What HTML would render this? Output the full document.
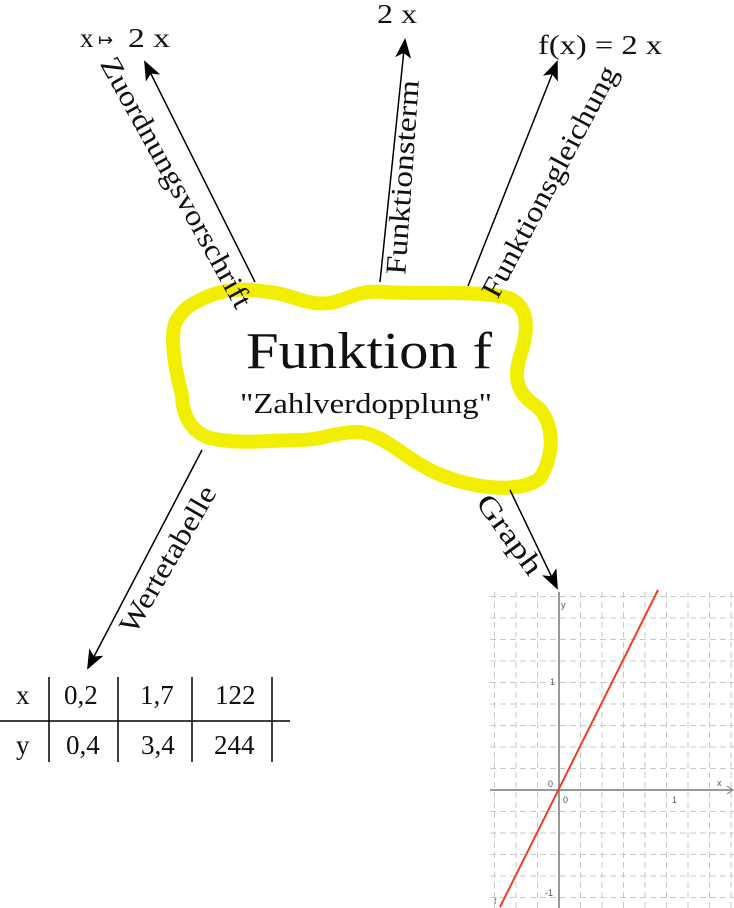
<!DOCTYPE html>
<html><head><meta charset="utf-8"><style>
html,body{margin:0;padding:0;background:#fff;}
svg{display:block;}
text{font-family:"Liberation Serif",serif;fill:#111;}
</style></head><body>
<svg width="734" height="908" viewBox="0 0 734 908" xmlns="http://www.w3.org/2000/svg">
<defs>
<marker id="ah" markerWidth="20" markerHeight="20" refX="18" refY="8" orient="auto" markerUnits="userSpaceOnUse" viewBox="0 0 20 16">
<path d="M0,0 L20,8 L0,16 L5,8 Z" fill="#000"/>
</marker>
</defs>
<!-- graph grid -->
<g stroke="#c8c8c8" stroke-width="1" stroke-dasharray="6,4">
<line x1="494.5" y1="592" x2="494.5" y2="908"/><line x1="516" y1="592" x2="516" y2="908"/><line x1="537.5" y1="592" x2="537.5" y2="908"/><line x1="580.5" y1="592" x2="580.5" y2="908"/><line x1="602" y1="592" x2="602" y2="908"/><line x1="623.5" y1="592" x2="623.5" y2="908"/><line x1="645" y1="592" x2="645" y2="908"/><line x1="666.5" y1="592" x2="666.5" y2="908"/><line x1="688" y1="592" x2="688" y2="908"/><line x1="709.5" y1="592" x2="709.5" y2="908"/><line x1="731" y1="592" x2="731" y2="908"/>
<line x1="490" y1="897.5" x2="734" y2="897.5"/><line x1="490" y1="876" x2="734" y2="876"/><line x1="490" y1="854.5" x2="734" y2="854.5"/><line x1="490" y1="833" x2="734" y2="833"/><line x1="490" y1="811.5" x2="734" y2="811.5"/><line x1="490" y1="768.5" x2="734" y2="768.5"/><line x1="490" y1="747" x2="734" y2="747"/><line x1="490" y1="725.5" x2="734" y2="725.5"/><line x1="490" y1="704" x2="734" y2="704"/><line x1="490" y1="682.5" x2="734" y2="682.5"/><line x1="490" y1="661" x2="734" y2="661"/><line x1="490" y1="639.5" x2="734" y2="639.5"/><line x1="490" y1="618" x2="734" y2="618"/><line x1="490" y1="596.5" x2="734" y2="596.5"/>
</g>
<g stroke="#777" stroke-width="1.5">
<line x1="490" y1="790" x2="732" y2="790"/>
<line x1="559" y1="908" x2="559" y2="592"/>
</g>
<path d="M727,786 L733,790 L727,794" fill="none" stroke="#777" stroke-width="1"/>
<g font-size="9">
<text x="561" y="608" style="font-family:'Liberation Sans',sans-serif;fill:#555">y</text>
<text x="717" y="786" style="font-family:'Liberation Sans',sans-serif;fill:#555">x</text>
<text x="548" y="787" style="font-family:'Liberation Sans',sans-serif;fill:#555">0</text>
<text x="563" y="803" style="font-family:'Liberation Sans',sans-serif;fill:#555">0</text>
<text x="672" y="803" style="font-family:'Liberation Sans',sans-serif;fill:#555">1</text>
<text x="550" y="685" style="font-family:'Liberation Sans',sans-serif;fill:#555">1</text>
<text x="545" y="896" style="font-family:'Liberation Sans',sans-serif;fill:#555">-1</text>
<text x="494" y="904" style="font-family:'Liberation Sans',sans-serif;fill:#e0502a">f</text>
</g>
<line x1="500" y1="907" x2="658" y2="590" stroke="#f04020" stroke-width="2"/>

<!-- yellow blob -->
<path d="M200,300 C230,285 250,290 270,292 C295,295 310,308 335,302 C355,296 360,290 385,292 C420,295 470,290 505,297 C530,303 528,330 522,350 C515,370 512,390 535,405 C555,420 555,455 540,478 C520,495 465,488 430,470 C400,455 380,430 352,432 C330,434 320,440 300,440 C270,440 240,445 210,438 C185,430 182,405 182,395 C175,370 168,330 178,318 C185,308 190,305 200,300 Z" fill="none" stroke="#f2ee00" stroke-width="14" stroke-linejoin="round"/>

<!-- arrows -->
<g stroke="#000" stroke-width="1.5" fill="none">
<line x1="255" y1="282" x2="145" y2="62" marker-end="url(#ah)"/>
<line x1="380" y1="282" x2="405" y2="40" marker-end="url(#ah)"/>
<line x1="468" y1="286" x2="557" y2="62" marker-end="url(#ah)"/>
<line x1="202" y1="450" x2="88" y2="668" marker-end="url(#ah)"/>
<line x1="510" y1="490" x2="557" y2="588" marker-end="url(#ah)"/>
</g>

<!-- top labels -->
<text x="80" y="47" font-size="27">x</text>
<text x="98" y="46" font-size="18">↦</text>
<text x="128" y="47" font-size="27" textLength="42" lengthAdjust="spacingAndGlyphs">2 x</text>
<text x="377" y="23" font-size="27" textLength="40" lengthAdjust="spacingAndGlyphs">2 x</text>
<text x="538" y="54" font-size="27" textLength="124" lengthAdjust="spacingAndGlyphs">f(x) = 2 x</text>

<!-- connector labels -->
<text font-size="29" text-anchor="middle" textLength="282" lengthAdjust="spacingAndGlyphs" transform="translate(168,187) rotate(61)">Zuordnungsvorschrift</text>
<text font-size="29" text-anchor="middle" textLength="195" lengthAdjust="spacingAndGlyphs" transform="translate(412,178) rotate(-86)">Funktionsterm</text>
<text font-size="29" text-anchor="middle" textLength="258" lengthAdjust="spacingAndGlyphs" transform="translate(558,186) rotate(-62)">Funktionsgleichung</text>
<text font-size="29" text-anchor="middle" textLength="165" lengthAdjust="spacingAndGlyphs" transform="translate(176,564) rotate(-60)">Wertetabelle</text>
<text font-size="29" text-anchor="middle" textLength="92" lengthAdjust="spacingAndGlyphs" transform="translate(502,540) rotate(54)">Graph</text>

<!-- center -->
<text x="369" y="368" font-size="52" text-anchor="middle" textLength="246" lengthAdjust="spacingAndGlyphs">Funktion f</text>
<text x="366" y="413" font-size="28" text-anchor="middle" textLength="252" lengthAdjust="spacingAndGlyphs">"Zahlverdopplung"</text>

<!-- table -->
<g stroke="#000" stroke-width="1.5">
<line x1="0" y1="721" x2="290" y2="721"/>
<line x1="49" y1="677" x2="49" y2="762"/>
<line x1="118" y1="677" x2="118" y2="762"/>
<line x1="192" y1="677" x2="192" y2="762"/>
<line x1="272" y1="677" x2="272" y2="762"/>
</g>
<g font-size="27">
<text x="16" y="704">x</text>
<text x="64" y="704">0,2</text>
<text x="140" y="704">1,7</text>
<text x="215" y="704">122</text>
<text x="16" y="754">y</text>
<text x="66" y="754">0,4</text>
<text x="141" y="754">3,4</text>
<text x="214" y="754">244</text>
</g>
</svg>
</body></html>
